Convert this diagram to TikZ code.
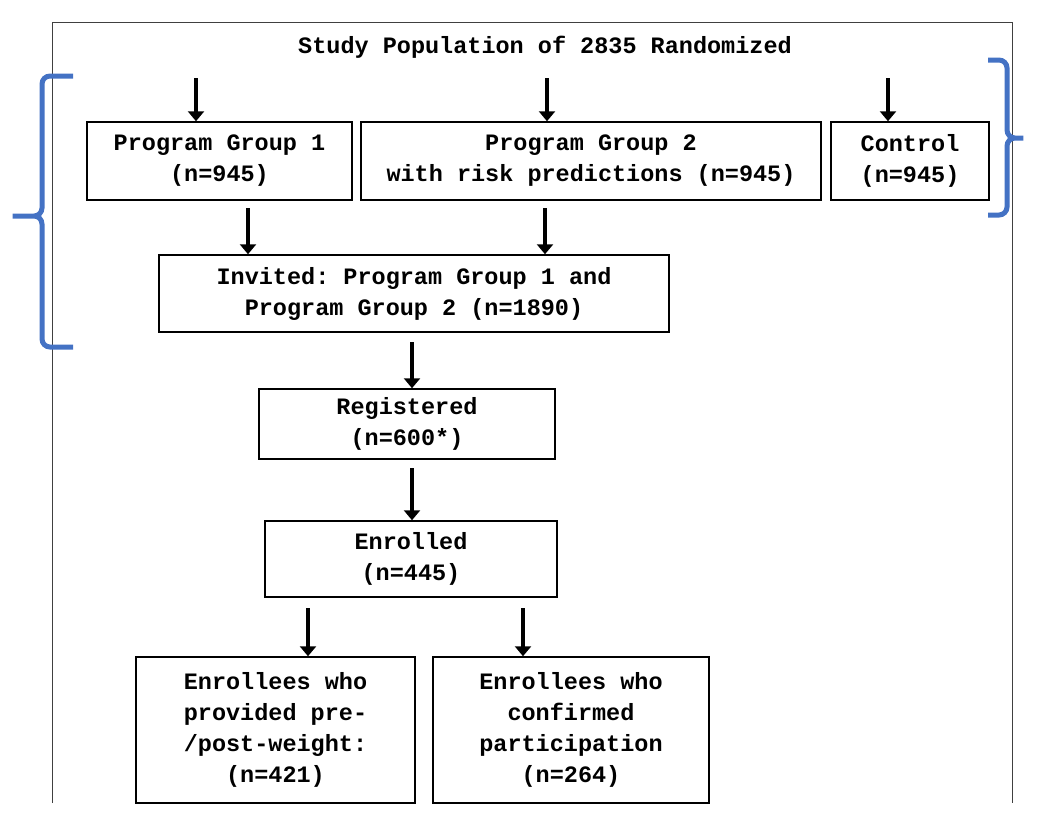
\documentclass[tikz,border=0pt]{standalone}
\usepackage{fontspec}
\setmonofont{Liberation Mono}
\usetikzlibrary{arrows.meta}
\definecolor{bracecol}{RGB}{68,114,196}
\begin{document}
\begin{tikzpicture}[x=1pt,y=-1pt,
  box/.style={draw,line width=1.5pt,align=center,font=\ttfamily\bfseries\fontsize{23.5}{31}\selectfont,inner sep=0pt},
  arr/.style={line width=4pt,-{Triangle[width=16pt,length=10pt]}},
  brk/.style={draw=bracecol,line width=5pt,rounded corners=8pt}]
\useasboundingbox (0,0) rectangle (1044,828);
\draw[black!75,line width=1pt] (52,803) -- (52,22) -- (1012,22) -- (1012,803);
\node[font=\ttfamily\bfseries\fontsize{23.5}{24}\selectfont] (title) at (545,47) {Study Population of 2835 Randomized};
\node[box,minimum width=265pt,minimum height=78pt] (p1) at (219.5,161) {Program Group 1\\(n=945)};
\node[box,minimum width=460pt,minimum height=78pt] (p2) at (591,161) {Program Group 2\\with risk predictions (n=945)};
\node[box,minimum width=158pt,minimum height=78pt] (c) at (910,161) {Control\\(n=945)};
\node[box,minimum width=510pt,minimum height=77pt] (inv) at (414,293.5) {Invited: Program Group 1 and\\Program Group 2 (n=1890)};
\node[box,minimum width=296pt,minimum height=70pt] (reg) at (407,424) {Registered\\(n=600*)};
\node[box,minimum width=292pt,minimum height=76pt] (enr) at (411,559) {Enrolled\\(n=445)};
\node[box,minimum width=279pt,minimum height=146pt] (e1) at (275.5,730) {Enrollees who\\provided pre-\\/post-weight:\\(n=421)};
\node[box,minimum width=276pt,minimum height=146pt] (e2) at (571,730) {Enrollees who\\confirmed\\participation\\(n=264)};
\draw[arr] (196,78) -- (p1.north -| 196,0);
\draw[arr] (547,78) -- (p2.north -| 547,0);
\draw[arr] (888,78) -- (c.north -| 888,0);
\draw[arr] (248,208) -- (inv.north -| 248,0);
\draw[arr] (545,208) -- (inv.north -| 545,0);
\draw[arr] (412,342) -- (reg.north -| 412,0);
\draw[arr] (412,468) -- (enr.north -| 412,0);
\draw[arr] (308,608) -- (e1.north -| 308,0);
\draw[arr] (523,608) -- (e2.north -| 523,0);
\draw[brk] (73,76) -- (42,76) -- (42,216) -- (8,216) -- (42,216) -- (42,347) -- (73,347);
\draw[brk] (988,60) -- (1007,60) -- (1007,138) -- (1028,138) -- (1007,138) -- (1007,215) -- (988,215);
\end{tikzpicture}
\end{document}
